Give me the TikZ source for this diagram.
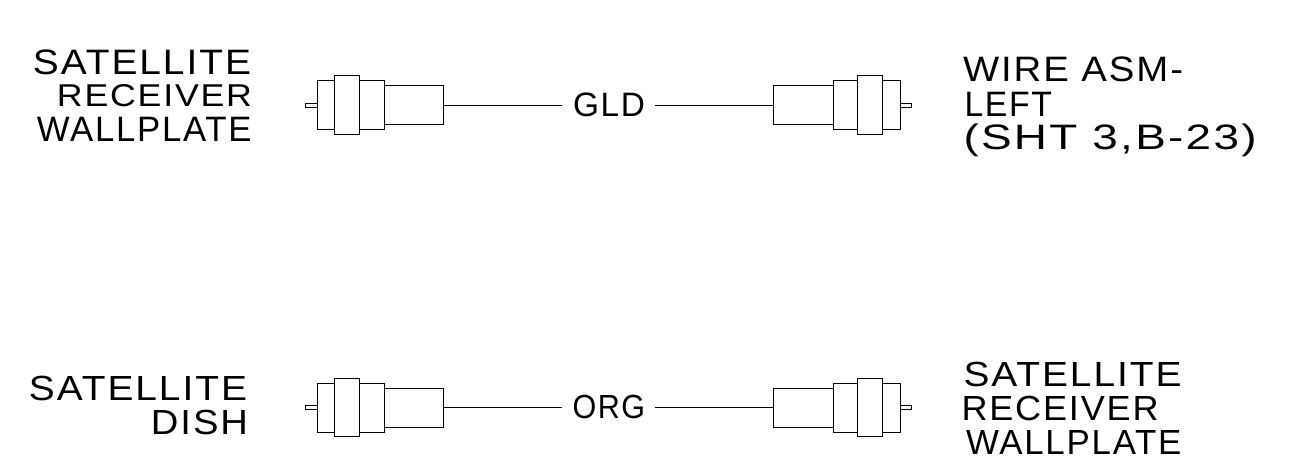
\documentclass[tikz,border=0pt]{standalone}
\usepackage{fontspec}
\setmainfont[LetterSpace=5]{Liberation Sans}
\newcommand{\fitted}[3]{\resizebox{#1pt}{#2pt}{\fontsize{10}{12}\selectfont\rule{0pt}{6.88pt}\smash{#3}}}
\tikzset{
  x=1pt,y=-1pt,
  part/.style={draw=black,line width=1pt,inner sep=0pt,outer sep=0pt,fill=white},
  pin/.style={part,minimum width=11.5pt,minimum height=4pt},
  body/.style={part,minimum width=67pt,minimum height=49pt},
  collar/.style={part,minimum width=25pt,minimum height=58.5pt},
  sleeve/.style={part,minimum width=59.5pt,minimum height=39pt},
  wire/.style={draw=black,line width=1pt},
  lbl/.style={inner sep=0pt,outer sep=0pt},
  lblr/.style={lbl,anchor=base east},
  lbll/.style={lbl,anchor=base west}
}
\begin{document}
\begin{tikzpicture}
\useasboundingbox (0,0) rectangle (1306,464);
\fill[white] (0,0) rectangle (1306,464);
% top row
\node[pin] (tlp) at (311.25,105) {};
\node[body] (tlb) at (350.5,105) {};
\node[collar] (tlc) at (347,104.75) {};
\node[sleeve] (tls) at (413.75,105) {};
\node[pin] (trp) at (905.25,105) {};
\node[body] (trb) at (866.5,105) {};
\node[collar] (trc) at (870,104.75) {};
\node[sleeve] (trs) at (803.25,105) {};
\node[lbl,anchor=base west] (gld) at (573,116.3) {\fitted{72}{23.3}{GLD}};
\draw[wire] (tls.east) -- ([xshift=-11.3pt]tls.east -| gld.west);
\draw[wire] (trs.west) -- ([xshift=10pt]trs.west -| gld.east);
% bottom row
\node[pin] (blp) at (311.25,407.5) {};
\node[body] (blb) at (350.5,407.5) {};
\node[collar] (blc) at (347,407.25) {};
\node[sleeve] (bls) at (413.75,407.5) {};
\node[pin] (brp) at (905.25,407.5) {};
\node[body] (brb) at (866.5,407.5) {};
\node[collar] (brc) at (870,407.25) {};
\node[sleeve] (brs) at (803.25,407.5) {};
\node[lbl,anchor=base west] (org) at (572.5,418.5) {\fitted{72.5}{23}{ORG}};
\draw[wire] (bls.east) -- ([xshift=-10.8pt]bls.east -| org.west);
\draw[wire] (brs.west) -- ([xshift=10pt]brs.west -| org.east);
% labels
\node[lblr] (a1) at (251,74.3) {\fitted{218}{24.3}{SATELLITE}};
\node[lblr] (a2) at (252,106.7) {\fitted{195}{21.7}{RECEIVER}};
\node[lblr] (a3) at (251.5,141) {\fitted{214.5}{24.3}{WALLPLATE}};
\node[lbll] (b1) at (963,81.7) {\fitted{220}{24.3}{WIRE ASM-}};
\node[lbll] (b2) at (964.5,116) {\fitted{87.5}{24.3}{LEFT}};
\node[lbll] (b3) at (963.5,149.3) {\fitted{293}{24.3}{(SHT 3,B-23)}};
\node[lblr] (c1) at (247,400) {\fitted{218}{24}{SATELLITE}};
\node[lblr] (c2) at (248,434) {\fitted{97}{24}{DISH}};
\node[lbll] (d1) at (963.5,386.7) {\fitted{218}{24}{SATELLITE}};
\node[lbll] (d2) at (961.5,420) {\fitted{197}{24}{RECEIVER}};
\node[lbll] (d3) at (966,454) {\fitted{215.5}{24}{WALLPLATE}};
\end{tikzpicture}
\end{document}
